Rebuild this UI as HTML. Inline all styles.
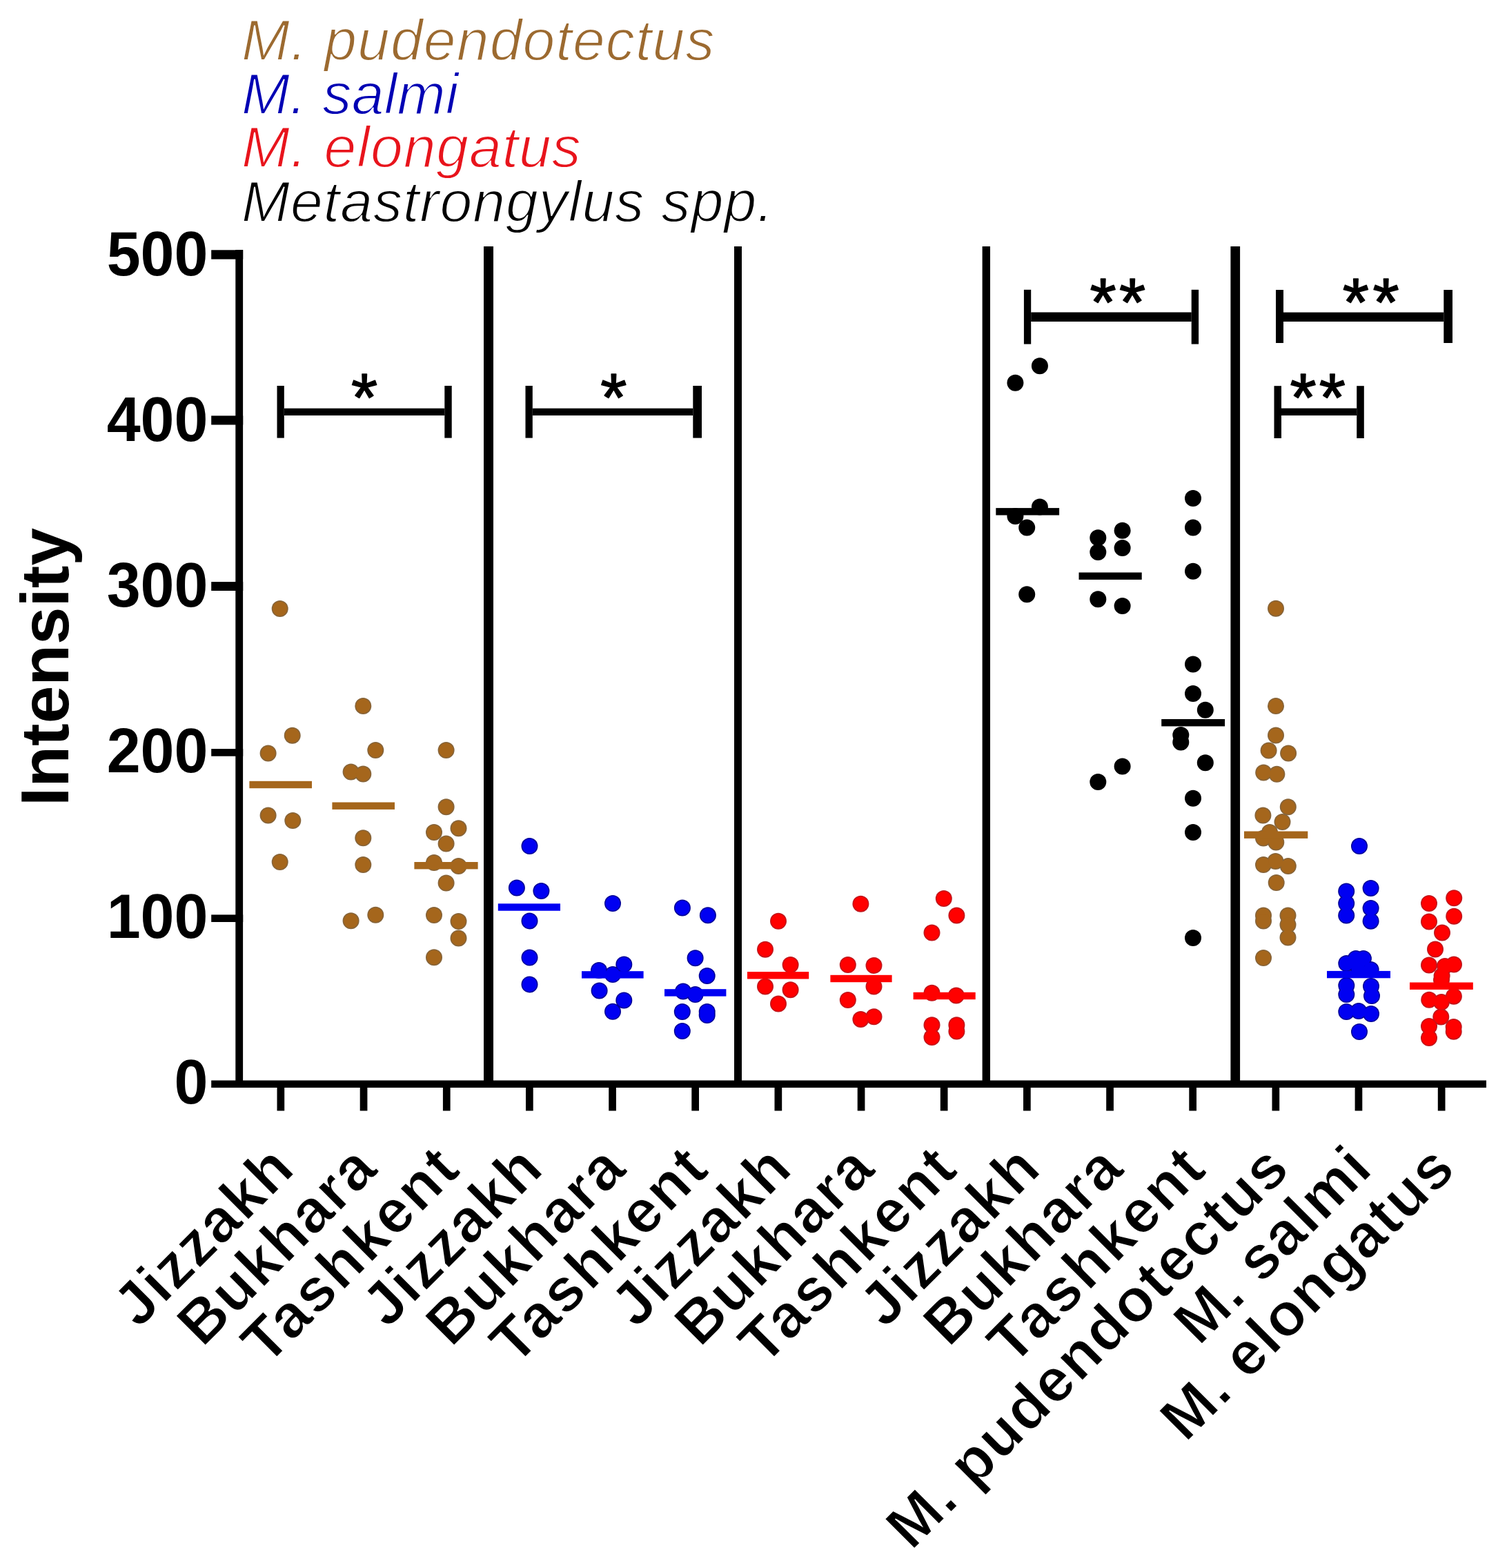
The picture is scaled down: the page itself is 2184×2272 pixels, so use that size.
<!DOCTYPE html>
<html><head><meta charset="utf-8"><title>Intensity</title>
<style>
html,body{margin:0;padding:0;background:#fff;}
svg{display:block;}
.b{font-family:"Liberation Sans",Arial,sans-serif;font-weight:bold;}
.i{font-family:"Liberation Sans",Arial,sans-serif;font-style:italic;}
</style></head><body>
<svg width="2184" height="2272" viewBox="0 0 2184 2272">
<rect width="2184" height="2272" fill="#fff"/>
<g class="i" font-size="84" stroke="#fff" stroke-width="1.8">
<text x="350" y="86.6" fill="#9c6a30" textLength="685.4" lengthAdjust="spacing">M. pudendotectus</text>
<text x="350" y="164.5" fill="#0000b4" textLength="314.5" lengthAdjust="spacing">M. salmi</text>
<text x="350" y="242" fill="#e8141c" textLength="491.8" lengthAdjust="spacing">M. elongatus</text>
<text x="350" y="321" fill="#000" textLength="770.5" lengthAdjust="spacing">Metastrongylus spp.</text>
</g>
<text class="b" font-size="98" transform="translate(98.5,966.5) rotate(-90)" text-anchor="middle">Intensity</text>
<g class="b" font-size="88" text-anchor="end">
<text transform="translate(301.5,1599.0) scale(1,1.04)">0</text>
<text transform="translate(301.5,1359.0) scale(1,1.04)">100</text>
<text transform="translate(301.5,1119.0) scale(1,1.04)">200</text>
<text transform="translate(301.5,879.0) scale(1,1.04)">300</text>
<text transform="translate(301.5,639.0) scale(1,1.04)">400</text>
<text transform="translate(301.5,399.0) scale(1,1.04)">500</text>
</g>
<g fill="#000">
<rect x="341.3" y="362" width="10.8" height="1214"/>
<rect x="306.2" y="362.3" width="46" height="13.3"/>
<rect x="306.2" y="602.4" width="46" height="13.1"/>
<rect x="306.2" y="843.1" width="46" height="12.9"/>
<rect x="306.2" y="1085.1" width="46" height="10.6"/>
<rect x="306.2" y="1325.4" width="46" height="10.6"/>
<rect x="306.2" y="1565.5" width="1847.8" height="10.5"/>
<rect x="401.5" y="1570" width="10.7" height="39.5"/>
<rect x="521.7" y="1570" width="10.7" height="39.5"/>
<rect x="641.9" y="1570" width="10.7" height="39.5"/>
<rect x="762.0" y="1570" width="10.7" height="39.5"/>
<rect x="882.2" y="1570" width="10.7" height="39.5"/>
<rect x="1002.3" y="1570" width="10.7" height="39.5"/>
<rect x="1122.5" y="1570" width="10.7" height="39.5"/>
<rect x="1242.7" y="1570" width="10.7" height="39.5"/>
<rect x="1362.8" y="1570" width="10.7" height="39.5"/>
<rect x="1483.0" y="1570" width="10.7" height="39.5"/>
<rect x="1603.2" y="1570" width="10.7" height="39.5"/>
<rect x="1723.3" y="1570" width="10.7" height="39.5"/>
<rect x="1843.5" y="1570" width="10.7" height="39.5"/>
<rect x="1963.6" y="1570" width="10.7" height="39.5"/>
<rect x="2083.8" y="1570" width="10.7" height="39.5"/>
<rect x="701" y="357" width="14.0" height="1214"/>
<rect x="1064" y="357" width="11.0" height="1214"/>
<rect x="1423.6" y="357" width="11.4" height="1214"/>
<rect x="1783.4" y="357" width="13.7" height="1214"/>
<rect x="401.5" y="559" width="10.3" height="75.6"/>
<rect x="644.3" y="559" width="10.4" height="75.6"/>
<rect x="411.8" y="591.7" width="232.5" height="10.3"/>
<rect x="761.5" y="559" width="10.3" height="75.6"/>
<rect x="1004.3" y="559" width="12.7" height="75.6"/>
<rect x="771.8" y="591.7" width="232.5" height="10.3"/>
<rect x="1483.9" y="419.8" width="10.3" height="78.8"/>
<rect x="1726.7" y="419.8" width="10.4" height="78.8"/>
<rect x="1494.2" y="452.5" width="232.5" height="13.5"/>
<rect x="1849" y="420" width="11.0" height="77.0"/>
<rect x="2092.3" y="420" width="12.7" height="77.0"/>
<rect x="1860" y="452.6" width="232.3" height="13.4"/>
<rect x="1846.5" y="559.2" width="10.5" height="75.8"/>
<rect x="1966.2" y="559.2" width="10.6" height="75.8"/>
<rect x="1857" y="591.6" width="109.2" height="10.4"/>
</g>
<g font-family="Liberation Sans, Arial, sans-serif" font-size="98" text-anchor="middle" stroke="#000" stroke-width="1.6" stroke-linejoin="round">
<text x="528.1" y="610.3">*</text><text x="889.3" y="610.3">*</text><text x="1598.5" y="471.6">*</text><text x="1641.1" y="471.6">*</text><text x="1964.8" y="471.6">*</text><text x="2008.5" y="471.6">*</text><text x="1888.5" y="610.3">*</text><text x="1930.9" y="610.3">*</text>
</g>
<g fill="#a5661c">
<g fill="#86643a"><circle cx="405.7" cy="882" r="12.0"/><circle cx="423.7" cy="1065.7" r="12.0"/><circle cx="388.6" cy="1091.4" r="12.0"/><circle cx="388.6" cy="1181.4" r="12.0"/><circle cx="424.3" cy="1189" r="12.0"/><circle cx="405.7" cy="1249" r="12.0"/></g>
<circle cx="405.7" cy="882" r="10.5"/><circle cx="423.7" cy="1065.7" r="10.5"/><circle cx="388.6" cy="1091.4" r="10.5"/><circle cx="388.6" cy="1181.4" r="10.5"/><circle cx="424.3" cy="1189" r="10.5"/><circle cx="405.7" cy="1249" r="10.5"/>
<rect x="361.4" y="1131.8" width="90.6" height="10.4"/>
</g>
<g fill="#a5661c">
<g fill="#86643a"><circle cx="526.3" cy="1022.9" r="12.0"/><circle cx="544.3" cy="1087" r="12.0"/><circle cx="508.6" cy="1118.6" r="12.0"/><circle cx="526.3" cy="1121.4" r="12.0"/><circle cx="526.3" cy="1214.3" r="12.0"/><circle cx="526.3" cy="1252.9" r="12.0"/><circle cx="508.6" cy="1334.3" r="12.0"/><circle cx="544.3" cy="1325.7" r="12.0"/></g>
<circle cx="526.3" cy="1022.9" r="10.5"/><circle cx="544.3" cy="1087" r="10.5"/><circle cx="508.6" cy="1118.6" r="10.5"/><circle cx="526.3" cy="1121.4" r="10.5"/><circle cx="526.3" cy="1214.3" r="10.5"/><circle cx="526.3" cy="1252.9" r="10.5"/><circle cx="508.6" cy="1334.3" r="10.5"/><circle cx="544.3" cy="1325.7" r="10.5"/>
<rect x="481.4" y="1162.5" width="90.6" height="10.4"/>
</g>
<g fill="#a5661c">
<g fill="#86643a"><circle cx="646.6" cy="1087" r="12.0"/><circle cx="646.6" cy="1169.3" r="12.0"/><circle cx="629" cy="1206" r="12.0"/><circle cx="664.5" cy="1200.3" r="12.0"/><circle cx="646.6" cy="1222.4" r="12.0"/><circle cx="629" cy="1250" r="12.0"/><circle cx="664.5" cy="1255" r="12.0"/><circle cx="646.6" cy="1279.5" r="12.0"/><circle cx="629" cy="1326" r="12.0"/><circle cx="664.5" cy="1335" r="12.0"/><circle cx="664.5" cy="1359.4" r="12.0"/><circle cx="629" cy="1387.2" r="12.0"/></g>
<circle cx="646.6" cy="1087" r="10.5"/><circle cx="646.6" cy="1169.3" r="10.5"/><circle cx="629" cy="1206" r="10.5"/><circle cx="664.5" cy="1200.3" r="10.5"/><circle cx="646.6" cy="1222.4" r="10.5"/><circle cx="629" cy="1250" r="10.5"/><circle cx="664.5" cy="1255" r="10.5"/><circle cx="646.6" cy="1279.5" r="10.5"/><circle cx="629" cy="1326" r="10.5"/><circle cx="664.5" cy="1335" r="10.5"/><circle cx="664.5" cy="1359.4" r="10.5"/><circle cx="629" cy="1387.2" r="10.5"/>
<rect x="600.4" y="1249.0" width="92.2" height="10.4"/>
</g>
<g fill="#0000f2">
<g fill="#000098"><circle cx="767.5" cy="1226.1" r="12.0"/><circle cx="748.9" cy="1286.5" r="12.0"/><circle cx="784.4" cy="1291.1" r="12.0"/><circle cx="767.5" cy="1334.4" r="12.0"/><circle cx="767.5" cy="1387.6" r="12.0"/><circle cx="767.5" cy="1426.4" r="12.0"/></g>
<circle cx="767.5" cy="1226.1" r="10.5"/><circle cx="748.9" cy="1286.5" r="10.5"/><circle cx="784.4" cy="1291.1" r="10.5"/><circle cx="767.5" cy="1334.4" r="10.5"/><circle cx="767.5" cy="1387.6" r="10.5"/><circle cx="767.5" cy="1426.4" r="10.5"/>
<rect x="721.8" y="1309.3" width="90.2" height="10.4"/>
</g>
<g fill="#0000f2">
<g fill="#000098"><circle cx="888" cy="1309.1" r="12.0"/><circle cx="868" cy="1406" r="12.0"/><circle cx="904.3" cy="1397.5" r="12.0"/><circle cx="888" cy="1412" r="12.0"/><circle cx="868.6" cy="1435.4" r="12.0"/><circle cx="904.3" cy="1449.5" r="12.0"/><circle cx="888" cy="1465.8" r="12.0"/></g>
<circle cx="888" cy="1309.1" r="10.5"/><circle cx="868" cy="1406" r="10.5"/><circle cx="904.3" cy="1397.5" r="10.5"/><circle cx="888" cy="1412" r="10.5"/><circle cx="868.6" cy="1435.4" r="10.5"/><circle cx="904.3" cy="1449.5" r="10.5"/><circle cx="888" cy="1465.8" r="10.5"/>
<rect x="843" y="1407.2" width="89.6" height="10.4"/>
</g>
<g fill="#0000f2">
<g fill="#000098"><circle cx="988.9" cy="1315.4" r="12.0"/><circle cx="1025.9" cy="1326.3" r="12.0"/><circle cx="1007.6" cy="1388.2" r="12.0"/><circle cx="1024.7" cy="1413.9" r="12.0"/><circle cx="990" cy="1436.5" r="12.0"/><circle cx="1007.6" cy="1441" r="12.0"/><circle cx="988.8" cy="1466" r="12.0"/><circle cx="1024.7" cy="1466" r="12.0"/><circle cx="1024.7" cy="1471" r="12.0"/><circle cx="988.8" cy="1494" r="12.0"/></g>
<circle cx="988.9" cy="1315.4" r="10.5"/><circle cx="1025.9" cy="1326.3" r="10.5"/><circle cx="1007.6" cy="1388.2" r="10.5"/><circle cx="1024.7" cy="1413.9" r="10.5"/><circle cx="990" cy="1436.5" r="10.5"/><circle cx="1007.6" cy="1441" r="10.5"/><circle cx="988.8" cy="1466" r="10.5"/><circle cx="1024.7" cy="1466" r="10.5"/><circle cx="1024.7" cy="1471" r="10.5"/><circle cx="988.8" cy="1494" r="10.5"/>
<rect x="963" y="1433.2" width="89.4" height="10.4"/>
</g>
<g fill="#ff0000">
<g fill="#c0161c"><circle cx="1128" cy="1334.8" r="12.0"/><circle cx="1109" cy="1375.7" r="12.0"/><circle cx="1145.6" cy="1397.9" r="12.0"/><circle cx="1109" cy="1429.6" r="12.0"/><circle cx="1145.6" cy="1434.2" r="12.0"/><circle cx="1128" cy="1454.6" r="12.0"/></g>
<circle cx="1128" cy="1334.8" r="10.5"/><circle cx="1109" cy="1375.7" r="10.5"/><circle cx="1145.6" cy="1397.9" r="10.5"/><circle cx="1109" cy="1429.6" r="10.5"/><circle cx="1145.6" cy="1434.2" r="10.5"/><circle cx="1128" cy="1454.6" r="10.5"/>
<rect x="1083" y="1408.1" width="89.2" height="10.4"/>
</g>
<g fill="#ff0000">
<g fill="#c0161c"><circle cx="1247.4" cy="1309.7" r="12.0"/><circle cx="1228.8" cy="1397.9" r="12.0"/><circle cx="1266.5" cy="1398.9" r="12.0"/><circle cx="1266.5" cy="1429.6" r="12.0"/><circle cx="1228.8" cy="1449" r="12.0"/><circle cx="1247.4" cy="1476.9" r="12.0"/><circle cx="1266.5" cy="1473.2" r="12.0"/></g>
<circle cx="1247.4" cy="1309.7" r="10.5"/><circle cx="1228.8" cy="1397.9" r="10.5"/><circle cx="1266.5" cy="1398.9" r="10.5"/><circle cx="1266.5" cy="1429.6" r="10.5"/><circle cx="1228.8" cy="1449" r="10.5"/><circle cx="1247.4" cy="1476.9" r="10.5"/><circle cx="1266.5" cy="1473.2" r="10.5"/>
<rect x="1203.4" y="1412.8" width="89.2" height="10.4"/>
</g>
<g fill="#ff0000">
<g fill="#c0161c"><circle cx="1367.8" cy="1301.9" r="12.0"/><circle cx="1386.4" cy="1326.4" r="12.0"/><circle cx="1350.5" cy="1351.5" r="12.0"/><circle cx="1350.5" cy="1438.8" r="12.0"/><circle cx="1385.8" cy="1442.6" r="12.0"/><circle cx="1350.5" cy="1485.2" r="12.0"/><circle cx="1350.5" cy="1503" r="12.0"/><circle cx="1386.4" cy="1485.2" r="12.0"/><circle cx="1386.4" cy="1494.6" r="12.0"/></g>
<circle cx="1367.8" cy="1301.9" r="10.5"/><circle cx="1386.4" cy="1326.4" r="10.5"/><circle cx="1350.5" cy="1351.5" r="10.5"/><circle cx="1350.5" cy="1438.8" r="10.5"/><circle cx="1385.8" cy="1442.6" r="10.5"/><circle cx="1350.5" cy="1485.2" r="10.5"/><circle cx="1350.5" cy="1503" r="10.5"/><circle cx="1386.4" cy="1485.2" r="10.5"/><circle cx="1386.4" cy="1494.6" r="10.5"/>
<rect x="1323.6" y="1437.8" width="90.1" height="10.4"/>
</g>
<g fill="#000000">
<g fill="#000"><circle cx="1506.9" cy="530.2" r="12.0"/><circle cx="1471.4" cy="554.7" r="12.0"/><circle cx="1506.9" cy="734.4" r="12.0"/><circle cx="1471.4" cy="748" r="12.0"/><circle cx="1488.2" cy="764.5" r="12.0"/><circle cx="1488.2" cy="861.2" r="12.0"/></g>
<circle cx="1506.9" cy="530.2" r="10.5"/><circle cx="1471.4" cy="554.7" r="10.5"/><circle cx="1506.9" cy="734.4" r="10.5"/><circle cx="1471.4" cy="748" r="10.5"/><circle cx="1488.2" cy="764.5" r="10.5"/><circle cx="1488.2" cy="861.2" r="10.5"/>
<rect x="1443.3" y="736.1" width="91.8" height="10.4"/>
</g>
<g fill="#000000">
<g fill="#000"><circle cx="1591.3" cy="779.2" r="12.0"/><circle cx="1591.3" cy="800" r="12.0"/><circle cx="1626.6" cy="768.8" r="12.0"/><circle cx="1626.6" cy="794.1" r="12.0"/><circle cx="1591.3" cy="868.3" r="12.0"/><circle cx="1626.6" cy="878" r="12.0"/><circle cx="1626.6" cy="1110.4" r="12.0"/><circle cx="1591.3" cy="1133" r="12.0"/></g>
<circle cx="1591.3" cy="779.2" r="10.5"/><circle cx="1591.3" cy="800" r="10.5"/><circle cx="1626.6" cy="768.8" r="10.5"/><circle cx="1626.6" cy="794.1" r="10.5"/><circle cx="1591.3" cy="868.3" r="10.5"/><circle cx="1626.6" cy="878" r="10.5"/><circle cx="1626.6" cy="1110.4" r="10.5"/><circle cx="1591.3" cy="1133" r="10.5"/>
<rect x="1563.5" y="829.5" width="91.2" height="10.4"/>
</g>
<g fill="#000000">
<g fill="#000"><circle cx="1729" cy="722" r="12.0"/><circle cx="1729" cy="764.6" r="12.0"/><circle cx="1729" cy="827.7" r="12.0"/><circle cx="1729" cy="962.4" r="12.0"/><circle cx="1729" cy="1004.9" r="12.0"/><circle cx="1746.8" cy="1028.8" r="12.0"/><circle cx="1711.3" cy="1065" r="12.0"/><circle cx="1711.3" cy="1075.6" r="12.0"/><circle cx="1746.8" cy="1105.3" r="12.0"/><circle cx="1729" cy="1156.7" r="12.0"/><circle cx="1729" cy="1206.1" r="12.0"/><circle cx="1729" cy="1359.1" r="12.0"/></g>
<circle cx="1729" cy="722" r="10.5"/><circle cx="1729" cy="764.6" r="10.5"/><circle cx="1729" cy="827.7" r="10.5"/><circle cx="1729" cy="962.4" r="10.5"/><circle cx="1729" cy="1004.9" r="10.5"/><circle cx="1746.8" cy="1028.8" r="10.5"/><circle cx="1711.3" cy="1065" r="10.5"/><circle cx="1711.3" cy="1075.6" r="10.5"/><circle cx="1746.8" cy="1105.3" r="10.5"/><circle cx="1729" cy="1156.7" r="10.5"/><circle cx="1729" cy="1206.1" r="10.5"/><circle cx="1729" cy="1359.1" r="10.5"/>
<rect x="1683.2" y="1042.0" width="91.9" height="10.4"/>
</g>
<g fill="#a5661c">
<g fill="#86643a"><circle cx="1849" cy="881.7" r="12.0"/><circle cx="1849" cy="1023.1" r="12.0"/><circle cx="1849" cy="1065.6" r="12.0"/><circle cx="1838.6" cy="1087.5" r="12.0"/><circle cx="1867.1" cy="1091.4" r="12.0"/><circle cx="1831.2" cy="1119.4" r="12.0"/><circle cx="1850.4" cy="1121.8" r="12.0"/><circle cx="1830.4" cy="1181.5" r="12.0"/><circle cx="1866.8" cy="1169.3" r="12.0"/><circle cx="1858.5" cy="1191" r="12.0"/><circle cx="1840" cy="1206" r="12.0"/><circle cx="1831" cy="1214.5" r="12.0"/><circle cx="1849.3" cy="1220.6" r="12.0"/><circle cx="1831" cy="1253" r="12.0"/><circle cx="1848.5" cy="1248" r="12.0"/><circle cx="1866.8" cy="1255" r="12.0"/><circle cx="1849.7" cy="1279" r="12.0"/><circle cx="1831" cy="1326.5" r="12.0"/><circle cx="1831" cy="1334.4" r="12.0"/><circle cx="1866.5" cy="1326.5" r="12.0"/><circle cx="1866.5" cy="1340" r="12.0"/><circle cx="1866.5" cy="1358.6" r="12.0"/><circle cx="1831" cy="1388" r="12.0"/></g>
<circle cx="1849" cy="881.7" r="10.5"/><circle cx="1849" cy="1023.1" r="10.5"/><circle cx="1849" cy="1065.6" r="10.5"/><circle cx="1838.6" cy="1087.5" r="10.5"/><circle cx="1867.1" cy="1091.4" r="10.5"/><circle cx="1831.2" cy="1119.4" r="10.5"/><circle cx="1850.4" cy="1121.8" r="10.5"/><circle cx="1830.4" cy="1181.5" r="10.5"/><circle cx="1866.8" cy="1169.3" r="10.5"/><circle cx="1858.5" cy="1191" r="10.5"/><circle cx="1840" cy="1206" r="10.5"/><circle cx="1831" cy="1214.5" r="10.5"/><circle cx="1849.3" cy="1220.6" r="10.5"/><circle cx="1831" cy="1253" r="10.5"/><circle cx="1848.5" cy="1248" r="10.5"/><circle cx="1866.8" cy="1255" r="10.5"/><circle cx="1849.7" cy="1279" r="10.5"/><circle cx="1831" cy="1326.5" r="10.5"/><circle cx="1831" cy="1334.4" r="10.5"/><circle cx="1866.5" cy="1326.5" r="10.5"/><circle cx="1866.5" cy="1340" r="10.5"/><circle cx="1866.5" cy="1358.6" r="10.5"/><circle cx="1831" cy="1388" r="10.5"/>
<rect x="1803" y="1204.5" width="92.3" height="10.4"/>
</g>
<g fill="#0000f2">
<g fill="#000098"><circle cx="1970" cy="1226.1" r="12.0"/><circle cx="1951.2" cy="1291.4" r="12.0"/><circle cx="1951.2" cy="1309" r="12.0"/><circle cx="1951.2" cy="1326.6" r="12.0"/><circle cx="1986.6" cy="1287" r="12.0"/><circle cx="1986.6" cy="1316" r="12.0"/><circle cx="1986.6" cy="1334.7" r="12.0"/><circle cx="1964.9" cy="1389" r="12.0"/><circle cx="1975.9" cy="1389" r="12.0"/><circle cx="1951.3" cy="1396" r="12.0"/><circle cx="1986.6" cy="1405" r="12.0"/><circle cx="1969" cy="1405" r="12.0"/><circle cx="1951.3" cy="1428" r="12.0"/><circle cx="1951.3" cy="1441" r="12.0"/><circle cx="1987" cy="1429" r="12.0"/><circle cx="1988" cy="1443" r="12.0"/><circle cx="1951.3" cy="1466" r="12.0"/><circle cx="1969" cy="1465" r="12.0"/><circle cx="1987" cy="1469" r="12.0"/><circle cx="1970" cy="1495" r="12.0"/></g>
<circle cx="1970" cy="1226.1" r="10.5"/><circle cx="1951.2" cy="1291.4" r="10.5"/><circle cx="1951.2" cy="1309" r="10.5"/><circle cx="1951.2" cy="1326.6" r="10.5"/><circle cx="1986.6" cy="1287" r="10.5"/><circle cx="1986.6" cy="1316" r="10.5"/><circle cx="1986.6" cy="1334.7" r="10.5"/><circle cx="1964.9" cy="1389" r="10.5"/><circle cx="1975.9" cy="1389" r="10.5"/><circle cx="1951.3" cy="1396" r="10.5"/><circle cx="1986.6" cy="1405" r="10.5"/><circle cx="1969" cy="1405" r="10.5"/><circle cx="1951.3" cy="1428" r="10.5"/><circle cx="1951.3" cy="1441" r="10.5"/><circle cx="1987" cy="1429" r="10.5"/><circle cx="1988" cy="1443" r="10.5"/><circle cx="1951.3" cy="1466" r="10.5"/><circle cx="1969" cy="1465" r="10.5"/><circle cx="1987" cy="1469" r="10.5"/><circle cx="1970" cy="1495" r="10.5"/>
<rect x="1923" y="1406.9" width="92.0" height="10.4"/>
</g>
<g fill="#ff0000">
<g fill="#c0161c"><circle cx="2071" cy="1309" r="12.0"/><circle cx="2071" cy="1335.5" r="12.0"/><circle cx="2107.2" cy="1301.3" r="12.0"/><circle cx="2107.2" cy="1327.7" r="12.0"/><circle cx="2090" cy="1351.4" r="12.0"/><circle cx="2080" cy="1375.5" r="12.0"/><circle cx="2071" cy="1398.4" r="12.0"/><circle cx="2107" cy="1397.5" r="12.0"/><circle cx="2094" cy="1400" r="12.0"/><circle cx="2089.6" cy="1414" r="12.0"/><circle cx="2089" cy="1420" r="12.0"/><circle cx="2071.2" cy="1448.8" r="12.0"/><circle cx="2106.9" cy="1443.7" r="12.0"/><circle cx="2089" cy="1452" r="12.0"/><circle cx="2088.3" cy="1473.6" r="12.0"/><circle cx="2071" cy="1487" r="12.0"/><circle cx="2071" cy="1504" r="12.0"/><circle cx="2106.7" cy="1488" r="12.0"/><circle cx="2106.7" cy="1494.7" r="12.0"/></g>
<circle cx="2071" cy="1309" r="10.5"/><circle cx="2071" cy="1335.5" r="10.5"/><circle cx="2107.2" cy="1301.3" r="10.5"/><circle cx="2107.2" cy="1327.7" r="10.5"/><circle cx="2090" cy="1351.4" r="10.5"/><circle cx="2080" cy="1375.5" r="10.5"/><circle cx="2071" cy="1398.4" r="10.5"/><circle cx="2107" cy="1397.5" r="10.5"/><circle cx="2094" cy="1400" r="10.5"/><circle cx="2089.6" cy="1414" r="10.5"/><circle cx="2089" cy="1420" r="10.5"/><circle cx="2071.2" cy="1448.8" r="10.5"/><circle cx="2106.9" cy="1443.7" r="10.5"/><circle cx="2089" cy="1452" r="10.5"/><circle cx="2088.3" cy="1473.6" r="10.5"/><circle cx="2071" cy="1487" r="10.5"/><circle cx="2071" cy="1504" r="10.5"/><circle cx="2106.7" cy="1488" r="10.5"/><circle cx="2106.7" cy="1494.7" r="10.5"/>
<rect x="2043" y="1423.5" width="91.8" height="10.4"/>
</g>
<g class="b" font-size="88" text-anchor="end" letter-spacing="1.7" stroke="#fff" stroke-width="1.4">
<text transform="translate(430.7,1696.45) rotate(-45)">Jizzakh</text>
<text transform="translate(550.9,1696.45) rotate(-45)">Bukhara</text>
<text transform="translate(671.1,1696.45) rotate(-45)" letter-spacing="2.8">Tashkent</text>
<text transform="translate(791.2,1696.45) rotate(-45)">Jizzakh</text>
<text transform="translate(911.4,1696.45) rotate(-45)">Bukhara</text>
<text transform="translate(1031.5,1696.45) rotate(-45)" letter-spacing="2.8">Tashkent</text>
<text transform="translate(1151.7,1696.45) rotate(-45)">Jizzakh</text>
<text transform="translate(1271.9,1696.45) rotate(-45)">Bukhara</text>
<text transform="translate(1392.0,1696.45) rotate(-45)" letter-spacing="2.8">Tashkent</text>
<text transform="translate(1512.2,1696.45) rotate(-45)">Jizzakh</text>
<text transform="translate(1632.4,1696.45) rotate(-45)">Bukhara</text>
<text transform="translate(1752.5,1696.45) rotate(-45)" letter-spacing="2.8">Tashkent</text>
<text transform="translate(1872.7,1696.45) rotate(-45)">M. pudendotectus</text>
<text transform="translate(1992.8,1696.45) rotate(-45)">M. salmi</text>
<text transform="translate(2113.0,1696.45) rotate(-45)">M. elongatus</text>
</g>
</svg>
</body></html>
